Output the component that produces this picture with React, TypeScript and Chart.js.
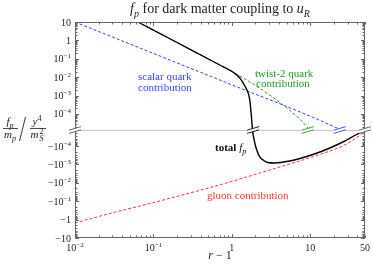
import React, { useEffect, useRef } from 'react';
import { Chart, registerables } from 'chart.js';
Chart.register(...registerables);

// ---------------- data (r - 1, f_p values) ----------------
const scalarX = [0.01, 0.1, 1, 10, 25];
const scalarF = [10, 0.196, 0.00385, 7.6e-5, 1e-5];

const twistX = [0.0635, 0.218, 0.703, 1.466, 2.79, 5.02, 7.35, 9.86];
const twistF = [10, 0.637, 0.046, 0.00798, 0.00138, 2.12e-4, 5.35e-5, 1e-5];

const gluonX = [0.01, 0.0279, 0.0902, 0.292, 0.944, 2.274, 5.48, 13.2, 27.5, 50];
const gluonF = [-1.53, -0.466, -0.133, -0.0358, -9.04e-3, -2.93e-3, -9.5e-4, -2.9e-4, -8.8e-5, -1.73e-5];

const totalX = [0.0635, 0.218, 0.703, 1.03, 1.265, 1.466, 1.6, 1.695, 1.782, 1.836, 1.906, 1.992, 2.081, 2.274, 2.557, 2.875, 3.53, 5.48, 9.02, 14.4, 23.8, 39.1, 50];
const totalF = [10, 0.637, 0.046, 0.0191, 0.00904, 0.00332, 0.00157, 5.75e-4, 6.87e-5, 0, -3.67e-5, -8.8e-5, -1.65e-4, -3.95e-4, -6.14e-4, -7.87e-4, -8.38e-4, -6.53e-4, -3.72e-4, -1.87e-4, -7.31e-5, -2.37e-5, -1.4e-5];

// tick labels
const yTickExps = [1, 0, -1, -2, -3, -4];
const xTickVals = [0.01, 0.1, 1, 10, 50];
const xTickLabels = ['10^-2', '10^-1', '1', '10', '50'];

// where curves cross the axis break (r - 1)
const breakCrossX = [1.87, 9.3, 23.8];

// ---------------- split-log transform ----------------
const GAP = 0.87; // decades between 10^-4 and the break
const YMAX = 1 + 4 + GAP;
const T = (v: number) => {
  if (v === 0) return 0;
  const m = Math.log10(Math.abs(v)) + 4 + GAP;
  return m <= 0 ? 0 : Math.sign(v) * m;
};

const BLUE = 'rgb(60,60,255)';
const GREEN = 'rgb(40,150,40)';
const RED = 'rgb(255,50,50)';
const AXIS = '#666';
const SERIF = '"Liberation Serif", "DejaVu Serif", serif';

type Seg = { t: string; i?: boolean; b?: boolean; sub?: boolean; sup?: boolean };

function segFont(s: Seg, size: number) {
  const sz = s.sub || s.sup ? Math.round(size * 0.7) : size;
  return `${s.i ? 'italic ' : ''}${s.b ? 'bold ' : ''}${sz}px ${SERIF}`;
}
function richWidth(ctx: CanvasRenderingContext2D, segs: Seg[], size: number) {
  let w = 0;
  for (const s of segs) {
    ctx.font = segFont(s, size);
    w += ctx.measureText(s.t).width;
  }
  return w;
}
function drawRich(ctx: CanvasRenderingContext2D, segs: Seg[], x: number, y: number, size: number, align: string, color: string) {
  const w = richWidth(ctx, segs, size);
  let cx = align === 'left' ? x : align === 'center' ? x - w / 2 : x - w;
  ctx.save();
  ctx.fillStyle = color;
  ctx.textAlign = 'left';
  ctx.textBaseline = 'alphabetic';
  for (const s of segs) {
    ctx.font = segFont(s, size);
    const dy = s.sub ? size * 0.25 : s.sup ? -size * 0.4 : 0;
    ctx.fillText(s.t, cx, y + dy);
    cx += ctx.measureText(s.t).width;
  }
  ctx.restore();
}
function labelSegs(lbl: string): Seg[] {
  const k = lbl.indexOf('^');
  if (k < 0) return [{ t: lbl.replace('-', '−') }];
  return [{ t: lbl.slice(0, k).replace('-', '−') }, { t: lbl.slice(k + 1).replace('-', '−'), sup: true }];
}
function yLabel(e: number, neg: boolean) {
  const base = e === 0 ? '1' : e === 1 ? '10' : `10^${e}`;
  return (neg ? '-' : '') + base;
}

function breakMark(ctx: CanvasRenderingContext2D, cx: number, cy: number, color: string) {
  const hw = 6, rise = 1.8, sep = 1.6;
  ctx.save();
  ctx.fillStyle = '#fff';
  ctx.beginPath();
  ctx.moveTo(cx - hw, cy + rise - sep);
  ctx.lineTo(cx + hw, cy - rise - sep);
  ctx.lineTo(cx + hw, cy - rise + sep);
  ctx.lineTo(cx - hw, cy + rise + sep);
  ctx.closePath();
  ctx.fill();
  ctx.strokeStyle = color;
  ctx.lineWidth = 0.9;
  ctx.beginPath();
  ctx.moveTo(cx - hw, cy + rise - sep);
  ctx.lineTo(cx + hw, cy - rise - sep);
  ctx.moveTo(cx - hw, cy + rise + sep);
  ctx.lineTo(cx + hw, cy - rise + sep);
  ctx.stroke();
  ctx.restore();
}

const deco = {
  id: 'deco',
  beforeDatasetsDraw(chart: any) {
    const { ctx, chartArea: a, scales } = chart;
    const y0 = Math.round(scales.y.getPixelForValue(0)) + 0.5;
    ctx.save();
    ctx.strokeStyle = '#c8c8c8';
    ctx.lineWidth = 1;
    ctx.beginPath();
    ctx.moveTo(a.left, y0);
    ctx.lineTo(a.right, y0);
    ctx.stroke();
    ctx.restore();
  },
  afterDatasetsDraw(chart: any) {
    const { ctx, chartArea: a, scales } = chart;
    const xs = scales.x, ys = scales.y;
    const y0 = ys.getPixelForValue(0);

    // curve break marks
    const cols = ['#000', GREEN, BLUE];
    breakCrossX.forEach((xv, i) => breakMark(ctx, xs.getPixelForValue(xv), y0, cols[i]));

    // frame
    ctx.save();
    ctx.strokeStyle = AXIS;
    ctx.lineWidth = 1;
    ctx.strokeRect(a.left + 0.5, a.top + 0.5, a.right - a.left - 1, a.bottom - a.top - 1);

    // x ticks
    ctx.beginPath();
    for (let k = -2; k <= 1; k++) {
      for (let m = 1; m <= 9; m++) {
        const v = m * Math.pow(10, k);
        if (v > 50) continue;
        const px = Math.round(xs.getPixelForValue(v)) + 0.5;
        const len = m === 1 ? 4 : 2.5;
        ctx.moveTo(px, a.bottom); ctx.lineTo(px, a.bottom - len);
        ctx.moveTo(px, a.top); ctx.lineTo(px, a.top + len);
      }
    }
    // y ticks
    const yt: [number, number][] = [];
    yTickExps.forEach((e) => { yt.push([T(Math.pow(10, e)), 4]); yt.push([T(-Math.pow(10, e)), 4]); });
    for (let k = -5; k <= 0; k++) {
      for (let m = 2; m <= 9; m++) {
        const t = T(m * Math.pow(10, k));
        if (t > 0 && t < YMAX) { yt.push([t, 2.5]); yt.push([-t, 2.5]); }
      }
    }
    yt.forEach(([t, len]) => {
      const py = Math.round(ys.getPixelForValue(t)) + 0.5;
      ctx.moveTo(a.left, py); ctx.lineTo(a.left + len, py);
      ctx.moveTo(a.right, py); ctx.lineTo(a.right - len, py);
    });
    ctx.stroke();
    ctx.restore();

    // axis break marks
    breakMark(ctx, a.left, y0, '#555');
    breakMark(ctx, a.right, y0, '#555');

    // y tick labels
    yTickExps.forEach((e) => {
      [false, true].forEach((neg) => {
        const v = (neg ? -1 : 1) * Math.pow(10, e);
        const py = ys.getPixelForValue(T(v));
        drawRich(ctx, labelSegs(yLabel(e, neg)), a.left - 4, py + 3.5, 10, 'right', '#222');
      });
    });
    // x tick labels
    xTickVals.forEach((v, i) => {
      const px = xs.getPixelForValue(v);
      drawRich(ctx, labelSegs(xTickLabels[i]), px, a.bottom + 13, 10, 'center', '#222');
    });

    // title
    drawRich(ctx, [{ t: 'f', i: true }, { t: 'p', i: true, sub: true }, { t: ' for dark matter coupling to ' }, { t: 'u', i: true }, { t: 'R', i: true, sub: true }],
      (a.left + a.right) / 2, 13, 14, 'center', '#222');
    // x title
    drawRich(ctx, [{ t: 'r', i: true }, { t: ' − 1' }], (a.left + a.right) / 2, 259, 12, 'center', '#222');

    // y title (fraction)
    ctx.save();
    ctx.fillStyle = '#222';
    ctx.strokeStyle = '#222';
    ctx.lineWidth = 0.8;
    drawRich(ctx, [{ t: 'f', i: true }, { t: 'p', i: true, sub: true }], 10, 125, 11, 'center', '#222');
    drawRich(ctx, [{ t: 'm', i: true }, { t: 'p', i: true, sub: true }], 10, 138, 11, 'center', '#222');
    ctx.beginPath(); ctx.moveTo(3, 128.5); ctx.lineTo(18, 128.5);
    ctx.moveTo(30, 128.5); ctx.lineTo(46, 128.5);
    ctx.stroke();
    ctx.beginPath(); ctx.lineWidth = 0.9; ctx.moveTo(25.5, 117); ctx.lineTo(19.5, 141); ctx.stroke();
    drawRich(ctx, [{ t: 'y', i: true }, { t: '4', sup: true }], 37, 125, 11, 'center', '#222');
    ctx.font = `italic 11px ${SERIF}`;
    ctx.textAlign = 'left';
    ctx.fillText('m', 30.5, 138);
    ctx.font = `italic 8px ${SERIF}`;
    ctx.fillText('S', 39.5, 140.5);
    ctx.font = `8px ${SERIF}`;
    ctx.fillText('2', 39.5, 134);
    ctx.restore();

    // annotations
    drawRich(ctx, [{ t: 'scalar quark' }], 138, 80, 11, 'left', BLUE);
    drawRich(ctx, [{ t: 'contribution' }], 138, 91, 11, 'left', BLUE);
    drawRich(ctx, [{ t: 'twist-2 quark' }], 255, 77, 11, 'left', GREEN);
    drawRich(ctx, [{ t: 'contribution' }], 256, 87, 11, 'left', GREEN);
    drawRich(ctx, [{ t: 'total ', b: true }, { t: 'f', i: true }, { t: 'p', i: true, sub: true }], 215, 151, 11, 'left', '#111');
    drawRich(ctx, [{ t: 'gluon contribution' }], 207, 199, 11, 'left', RED);
  },
};

function pts(xs: number[], fs: number[]) {
  return xs.map((x, i) => ({ x, y: T(fs[i]) }));
}

export default function App() {
  const ref = useRef<HTMLCanvasElement | null>(null);
  useEffect(() => {
    document.body.style.margin = '0';
    const c = ref.current!;
    const chart = new Chart(c, {
      type: 'line',
      data: {
        datasets: [
          { label: 'total', data: pts(totalX, totalF), borderColor: '#000', borderWidth: 1.4, pointRadius: 0, cubicInterpolationMode: 'monotone' },
          { label: 'twist-2', data: pts(twistX, twistF), borderColor: GREEN, borderWidth: 1, borderDash: [3, 2], pointRadius: 0, cubicInterpolationMode: 'monotone' },
          { label: 'scalar', data: pts(scalarX, scalarF), borderColor: BLUE, borderWidth: 1, borderDash: [3, 2], pointRadius: 0, cubicInterpolationMode: 'monotone' },
          { label: 'gluon', data: pts(gluonX, gluonF), borderColor: RED, borderWidth: 1, borderDash: [3, 2], pointRadius: 0, cubicInterpolationMode: 'monotone' },
        ],
      } as any,
      options: {
        animation: false,
        responsive: false,
        devicePixelRatio: 1,
        layout: { padding: { left: 75, right: 8, top: 22, bottom: 28 } },
        plugins: { legend: { display: false }, tooltip: { enabled: false }, title: { display: false } },
        scales: {
          x: { type: 'logarithmic', min: 0.01, max: 50, display: false },
          y: { type: 'linear', min: -YMAX, max: YMAX, display: false },
        },
      } as any,
      plugins: [deco],
    });
    return () => chart.destroy();
  }, []);
  return (
    <div style={{ position: 'absolute', left: 0, top: 0, width: 373, height: 266 }}>
      <canvas ref={ref} width={373} height={266} />
    </div>
  );
}
